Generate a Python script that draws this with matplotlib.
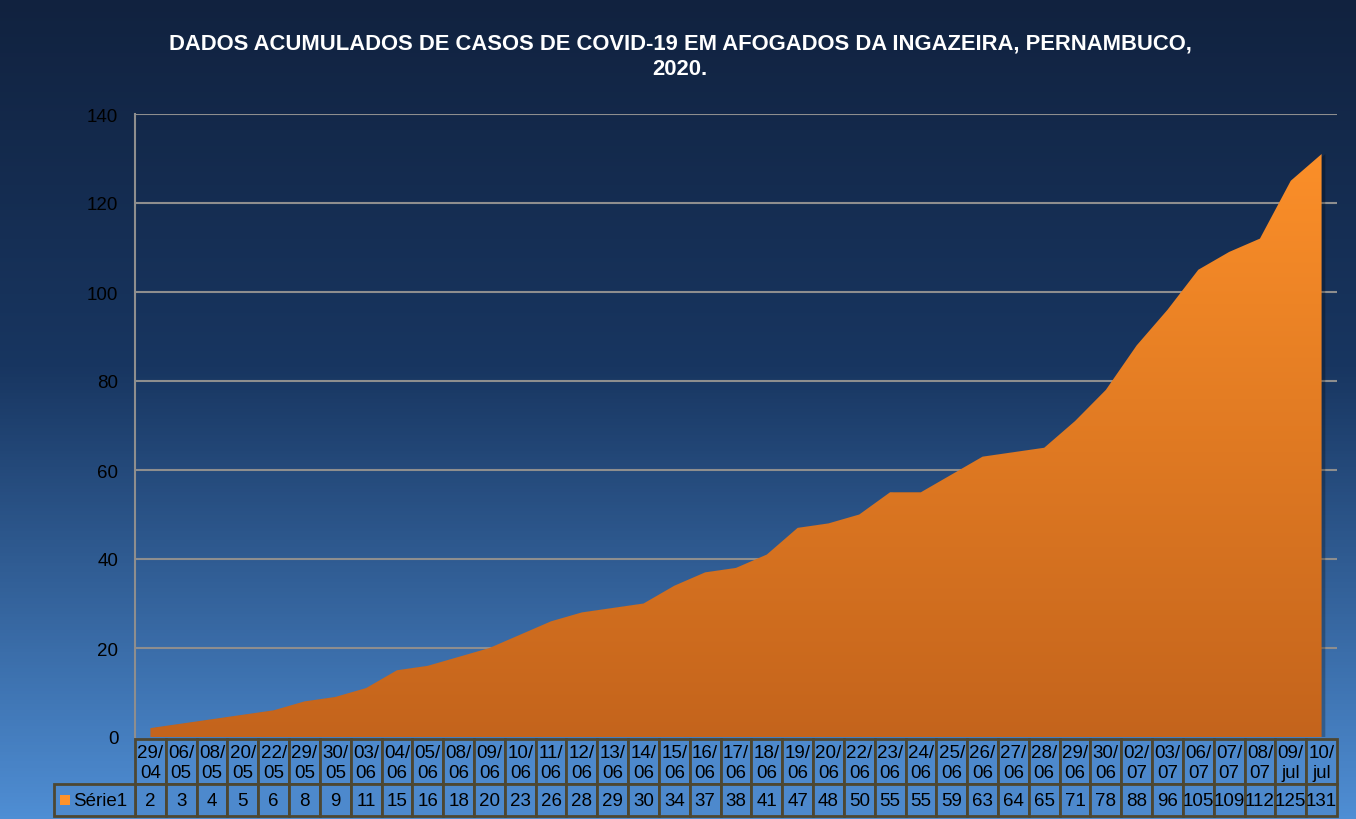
import numpy as np
import matplotlib.pyplot as plt
from matplotlib.patches import Polygon, Rectangle
from matplotlib.colors import LinearSegmentedColormap

plt.rcParams['font.family'] = ['Liberation Sans', 'DejaVu Sans']

# Data
datas = ['29/\n04', '06/\n05', '08/\n05', '20/\n05', '22/\n05', '29/\n05', '30/\n05',
         '03/\n06', '04/\n06', '05/\n06', '08/\n06', '09/\n06', '10/\n06', '11/\n06',
         '12/\n06', '13/\n06', '14/\n06', '15/\n06', '16/\n06', '17/\n06', '18/\n06',
         '19/\n06', '20/\n06', '22/\n06', '23/\n06', '24/\n06', '25/\n06', '26/\n06',
         '27/\n06', '28/\n06', '29/\n06', '30/\n06', '02/\n07', '03/\n07', '06/\n07',
         '07/\n07', '08/\n07', '09/\njul', '10/\njul']
casos = [2, 3, 4, 5, 6, 8, 9, 11, 15, 16, 18, 20, 23, 26, 28, 29, 30, 34, 37, 38, 41,
         47, 48, 50, 55, 55, 59, 63, 64, 65, 71, 78, 88, 96, 105, 109, 112, 125, 131]
serie = 'Série1'
titulo = 'DADOS ACUMULADOS DE CASOS DE COVID-19 EM AFOGADOS DA INGAZEIRA, PERNAMBUCO,\n2020.'

W, H = 1356, 820
fig = plt.figure(figsize=(W / 100, H / 100), dpi=100)

# background gradient
bg = fig.add_axes([0, 0, 1, 1], zorder=-10)
bg_cmap = LinearSegmentedColormap.from_list(
    'bg', [(0, '#11223f'), (0.45, '#183661'), (1, '#4f8ed4')])
bg.imshow(np.linspace(0, 1, 256).reshape(-1, 1), cmap=bg_cmap, aspect='auto',
          extent=[0, 1, 0, 1])
bg.set_axis_off()

# plot area (pixel layout)
left, right, top, bottom = 135, 1337, 115, 738
ax = fig.add_axes([left / W, 1 - bottom / H, (right - left) / W, (bottom - top) / H])
ax.set_facecolor('none')
n = len(casos)
x = np.arange(n)
ax.set_xlim(-0.5, n - 0.5)
ax.set_ylim(0, 140)
ax.set_yticks(range(0, 141, 20))
ax.tick_params(axis='y', length=0, labelsize=13.5, colors='black', pad=12)
ax.set_xticks([])
for yv in range(20, 141, 20):
    ax.axhline(yv, color='#8e8e8e', lw=1.5, zorder=1)
for s in ['top', 'right', 'bottom']:
    ax.spines[s].set_visible(False)
ax.spines['left'].set_color('#8e8e8e')
ax.spines['left'].set_linewidth(1.5)

verts = list(zip(x, casos)) + [(n - 1, 0), (0, 0)]
shadow = Polygon([(vx + 0.12, vy) for vx, vy in verts], closed=True,
                 facecolor='black', alpha=0.25, edgecolor='none', zorder=2)
ax.add_patch(shadow)
poly = Polygon(verts, closed=True, facecolor='none', edgecolor='none', zorder=3)
ax.add_patch(poly)
area_cmap = LinearSegmentedColormap.from_list('area', ['#c4641c', '#ff922a'])
im = ax.imshow(np.linspace(0, 1, 256).reshape(-1, 1), cmap=area_cmap, origin='lower',
               aspect='auto', extent=[-0.5, n - 0.5, 0, 140], zorder=3)
im.set_clip_path(poly)

# data table
ov = fig.add_axes([0, 0, 1, 1], zorder=5)
ov.set_xlim(0, W)
ov.set_ylim(H, 0)
ov.set_axis_off()
cw = (right - left) / n
r1, r2, r3 = 740, 785, 817
edge = '#4d4732'
cell = '#4d89cd'
for i in range(n):
    x0 = left + i * cw
    ov.add_patch(Rectangle((x0, r1), cw, r2 - r1, facecolor=cell, edgecolor=edge, lw=2))
    ov.add_patch(Rectangle((x0, r2), cw, r3 - r2, facecolor=cell, edgecolor=edge, lw=2))
    ov.text(x0 + cw / 2, (r1 + r2) / 2 + 1, datas[i], ha='center', va='center',
            fontsize=13.5, linespacing=1.3)
    ov.text(x0 + cw / 2, (r2 + r3) / 2 + 1, str(casos[i]), ha='center', va='center',
            fontsize=13.5)
ov.add_patch(Rectangle((54, r2), left - 54, r3 - r2, facecolor=cell, edgecolor=edge, lw=2))
ov.add_patch(Rectangle((60, 796), 10, 10, facecolor='#ff922a', edgecolor='none'))
ov.text(73, (r2 + r3) / 2 + 1, serie, ha='left', va='center', fontsize=13.5)

fig.text(680 / W, 1 - 57 / H, titulo, ha='center', va='center', color='white',
         fontsize=15.8, fontweight='bold', linespacing=1.3)

fig.savefig('out.png', dpi=100)
